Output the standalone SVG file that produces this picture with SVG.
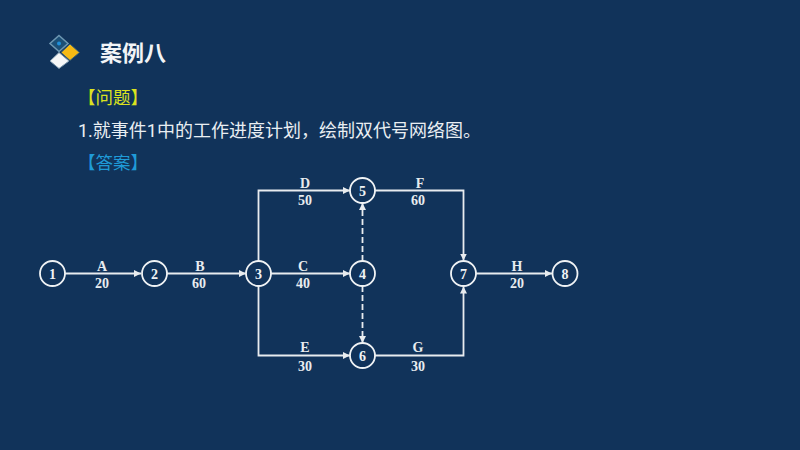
<svg xmlns="http://www.w3.org/2000/svg" width="800" height="450" viewBox="0 0 800 450">
<style>
.cjk{font-family:"Roboto","Noto Sans CJK SC",sans-serif}
.t{font-size:18px;fill:#e9eef2}
.n circle{fill:none;stroke:#f0f3f5;stroke-width:1.8}
.n text{font-family:"Liberation Serif",serif;font-weight:bold;font-size:14px;fill:#f0f3f5;text-anchor:middle}
.c path{fill:none;stroke:#e8ecef;stroke-width:1.8}
.c .d{stroke-dasharray:6 3}
.l text{font-family:"Liberation Serif",serif;font-size:14px;font-weight:bold;fill:#e8ecef;text-anchor:middle}
</style>
<defs>
<marker id="a" markerUnits="userSpaceOnUse" markerWidth="8" markerHeight="7" refX="7" refY="3.5" orient="auto"><path d="M0 0L7 3.5L0 7z" fill="#e8ecef"/></marker>
</defs>
<rect width="800" height="450" fill="#11335a"/>
<g id="logo">
<path d="M59 35.500L68 43.500L59 51.500L50 43.500z" fill="#1c4f76" stroke="#6f98b2" stroke-width="1.500"/>
<circle cx="59" cy="43.500" r="2" fill="#1f8fd8"/>
<path d="M70 44L79.500 52.500L70 60.500L61 52.500z" fill="#f5b914" stroke="#2f5a7a" stroke-width="1"/>
<path d="M59 52.500L69 61L59 68.500L50 61z" fill="#f6f7f8" stroke="#7b97ad" stroke-width="1"/>
</g>
<text class="cjk" x="100" y="60.500" font-size="22" font-weight="700" fill="#f2f4f6">案例八</text>
<text class="cjk" x="78" y="104" font-size="17.500" fill="#dbe21f">【问题】</text>
<text class="cjk t" x="78" y="136.500">1.就事件1中的工作进度计划，绘制双代号网络图。</text>
<text class="cjk" x="78" y="169" font-size="17.500" fill="#1f9bd8">【答案】</text>
<g id="connectors" class="c">
<path d="M65 273.500H141" marker-end="url(#a)"/>
<path d="M167 273.500H246" marker-end="url(#a)"/>
<path d="M258.500 261V190.500H350" marker-end="url(#a)"/>
<path d="M271 273.500H350" marker-end="url(#a)"/>
<path d="M258.500 286V355.500H350" marker-end="url(#a)"/>
<path class="d" d="M362.500 261V203" marker-end="url(#a)"/>
<path class="d" d="M362.500 286V343" marker-end="url(#a)"/>
<path d="M375 190.500H463.500V260.500" marker-end="url(#a)"/>
<path d="M375 355.500H463.500V286.500" marker-end="url(#a)"/>
<path d="M476 273.500H552" marker-end="url(#a)"/>
</g>
<g class="l">
<text x="102" y="271">A</text><text x="102" y="287.500">20</text>
<text x="200" y="271">B</text><text x="199" y="287.500">60</text>
<text x="305" y="188">D</text><text x="305" y="204.500">50</text>
<text x="303" y="270.500">C</text><text x="303" y="287.500">40</text>
<text x="305" y="352">E</text><text x="305" y="370.500">30</text>
<text x="420" y="187.500">F</text><text x="418" y="204.500">60</text>
<text x="418" y="352">G</text><text x="418" y="370.500">30</text>
<text x="517" y="271">H</text><text x="517" y="287.500">20</text>
</g>
<g id="n1" class="n"><circle cx="52.500" cy="273.500" r="12.500"/><text x="52.500" y="278.500">1</text></g>
<g id="n2" class="n"><circle cx="154.500" cy="273.500" r="12.500"/><text x="154.500" y="278.500">2</text></g>
<g id="n3" class="n"><circle cx="258.500" cy="273.500" r="12.500"/><text x="258.500" y="278.500">3</text></g>
<g id="n4" class="n"><circle cx="362.500" cy="273.500" r="12.500"/><text x="362.500" y="278.500">4</text></g>
<g id="n5" class="n"><circle cx="362.500" cy="190.500" r="12.500"/><text x="362.500" y="195.500">5</text></g>
<g id="n6" class="n"><circle cx="362.500" cy="355.500" r="12.500"/><text x="362.500" y="360.500">6</text></g>
<g id="n7" class="n"><circle cx="463.500" cy="273.500" r="12.500"/><text x="463.500" y="278.500">7</text></g>
<g id="n8" class="n"><circle cx="565" cy="273.500" r="12.500"/><text x="565" y="278.500">8</text></g>
</svg>
